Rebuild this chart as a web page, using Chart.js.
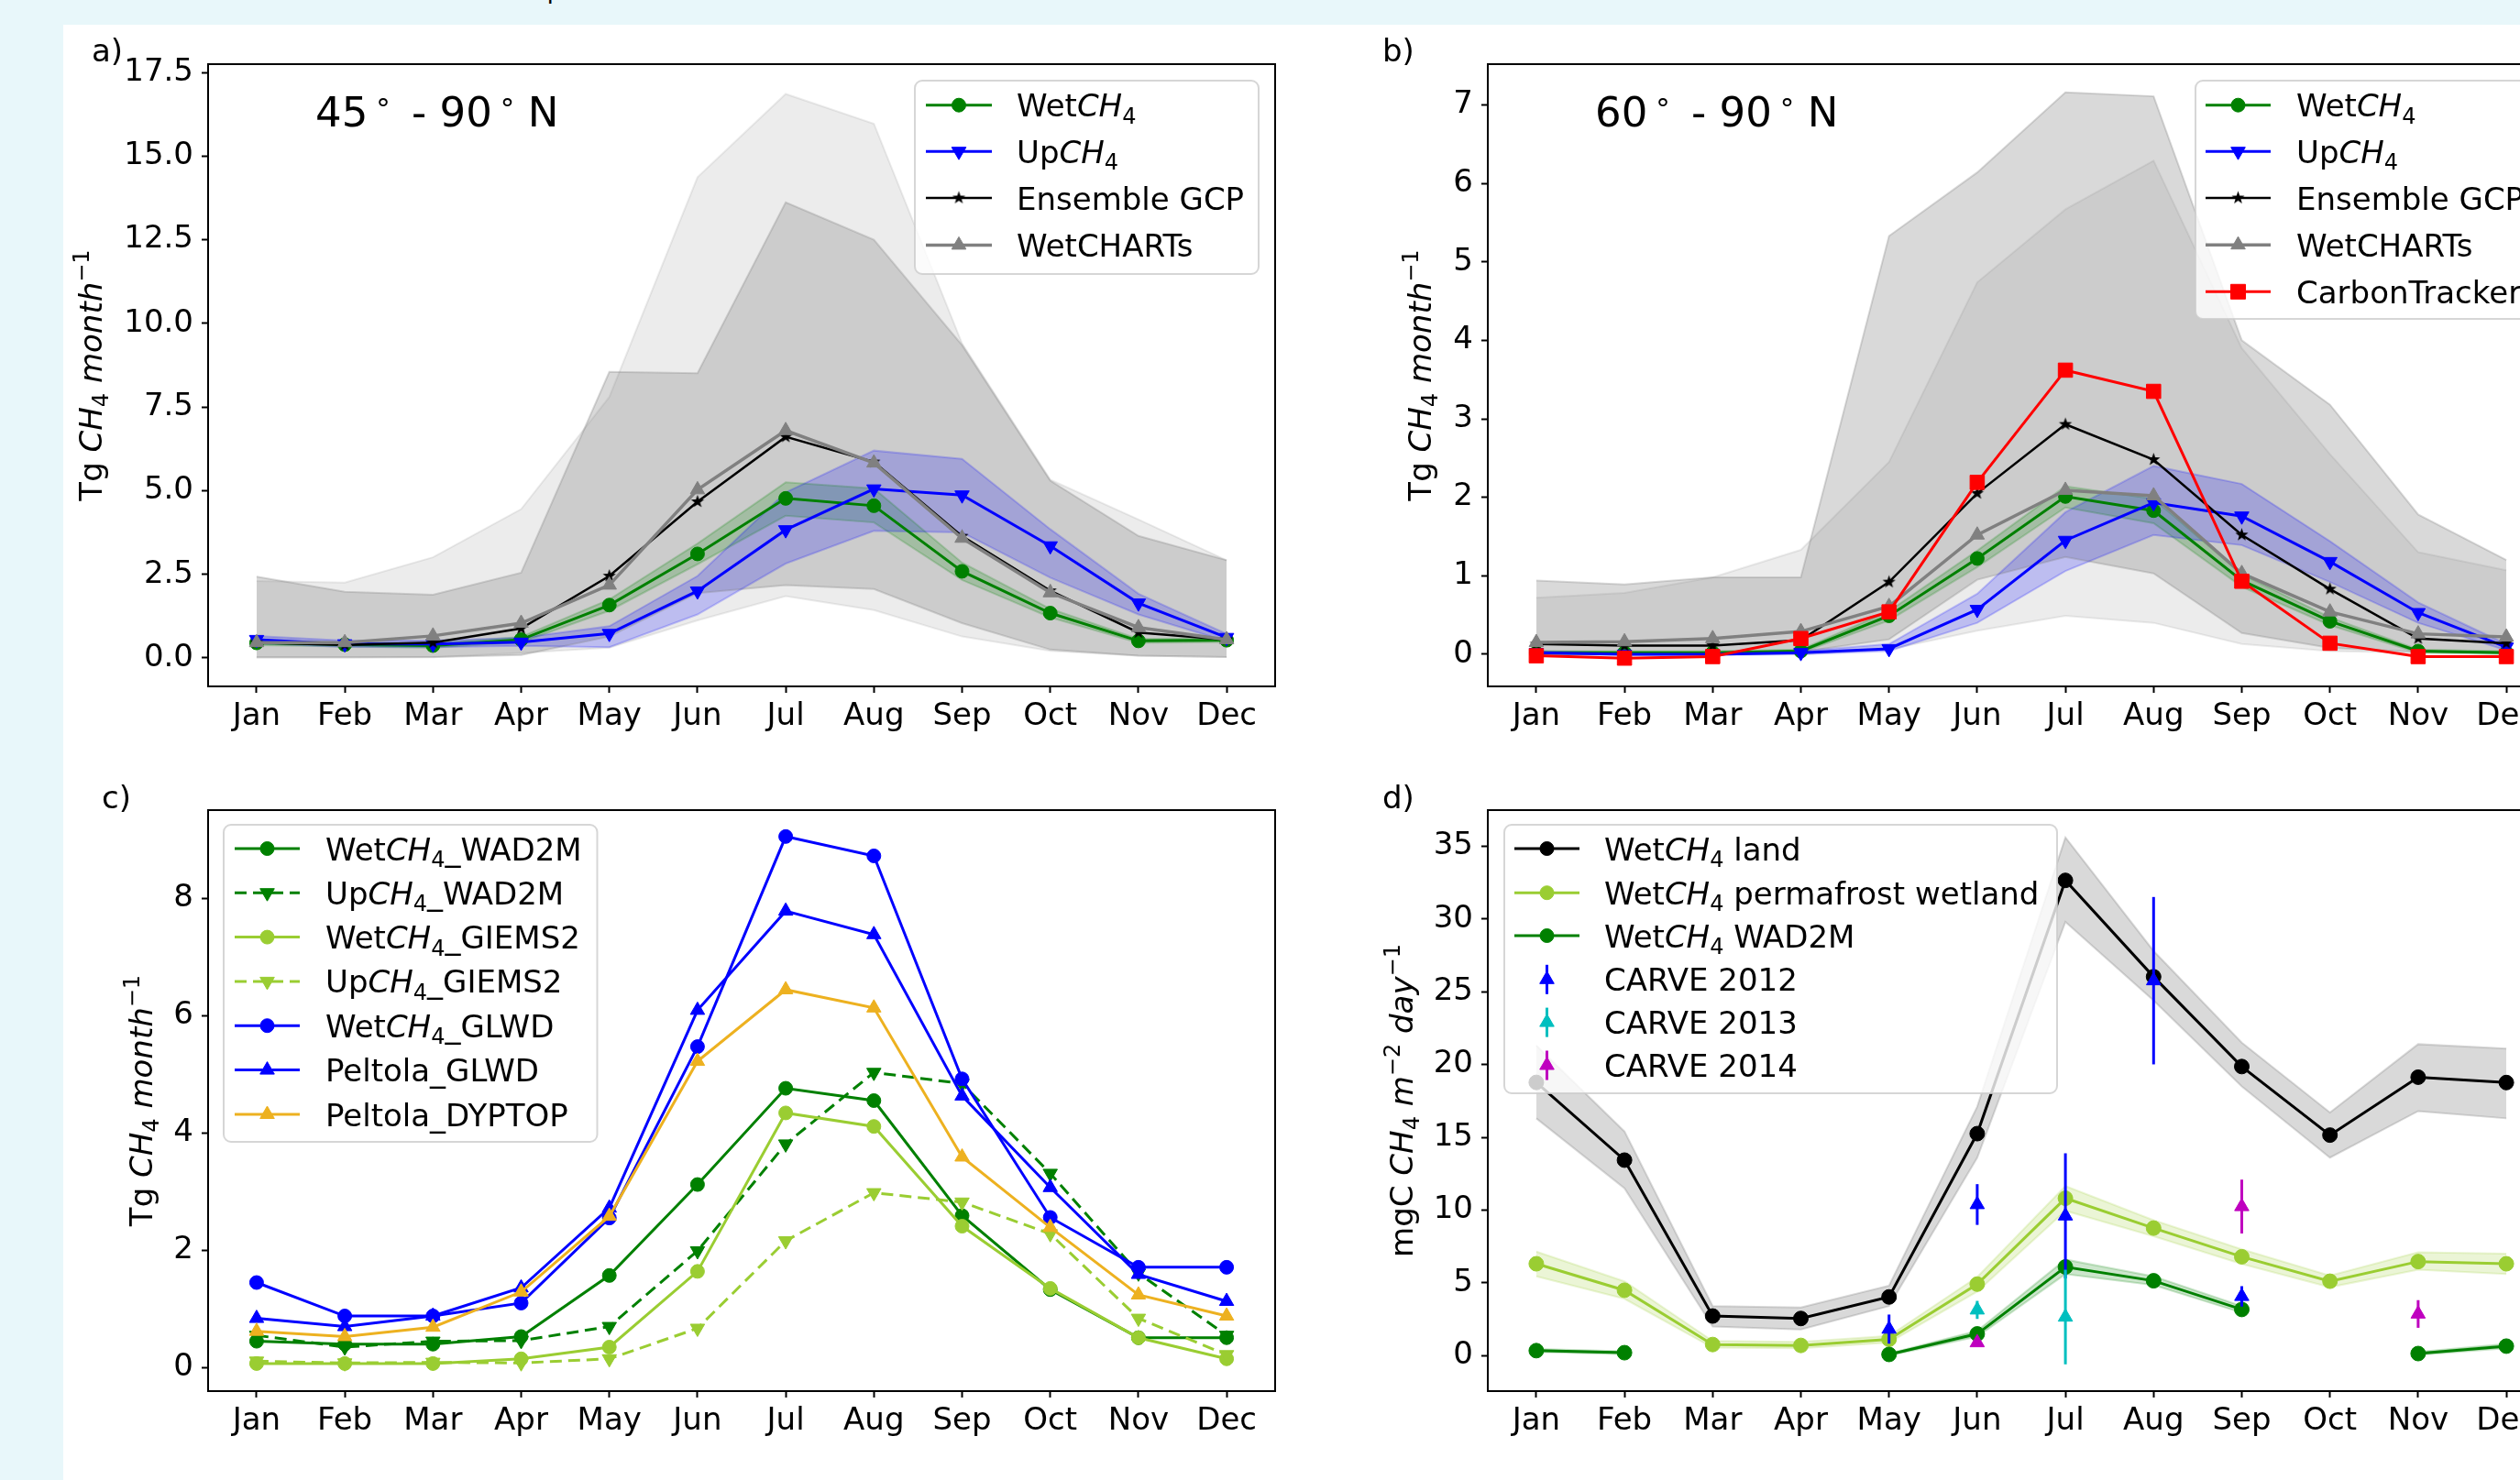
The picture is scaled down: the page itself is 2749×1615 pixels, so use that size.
<!DOCTYPE html>
<html>
<head>
<meta charset="utf-8">
<script src="https://cdn.jsdelivr.net/npm/chart.js"></script>
<style>
html,body{margin:0;padding:0;width:2749px;height:1615px;overflow:hidden;background:#e8f7fa;}
#fig{position:absolute;left:69px;top:27px;width:2680px;height:1588px;background:#fff;}
canvas{position:absolute;}
#frag{position:absolute;left:590px;top:-18px;font:24px "DejaVu Sans";color:#000;}
</style>
</head>
<body>
<div id="fig"></div>
<div id="frag">4</div>
<canvas id="ca"></canvas>
<canvas id="cb"></canvas>
<canvas id="cc"></canvas>
<canvas id="cd"></canvas>
<script>
// ---------------- DATA ----------------
const months = ['Jan','Feb','Mar','Apr','May','Jun','Jul','Aug','Sep','Oct','Nov','Dec'];

// a) 45-90 N  (Tg CH4 / month)
const a_wet    = [0.45, 0.40, 0.37, 0.55, 1.58, 3.11, 4.77, 4.55, 2.59, 1.34, 0.51, 0.53];
const a_wetHi  = [0.52, 0.46, 0.43, 0.63, 1.75, 3.42, 5.25, 5.07, 2.85, 1.47, 0.57, 0.60];
const a_wetLo  = [0.38, 0.34, 0.31, 0.47, 1.41, 2.80, 4.25, 4.05, 2.33, 1.21, 0.45, 0.47];
const a_up     = [0.55, 0.42, 0.42, 0.47, 0.73, 2.00, 3.83, 5.05, 4.87, 3.35, 1.64, 0.61];
const a_upHi   = [0.66, 0.52, 0.52, 0.60, 0.95, 2.45, 4.95, 6.20, 5.95, 3.85, 1.92, 0.72];
const a_upLo   = [0.44, 0.33, 0.32, 0.36, 0.32, 1.30, 2.82, 3.80, 3.75, 2.40, 1.30, 0.50];
const a_gcp    = [0.46, 0.39, 0.46, 0.88, 2.45, 4.67, 6.61, 5.86, 3.64, 2.01, 0.76, 0.55];
const a_gcpHi  = [2.43, 1.98, 1.89, 2.55, 8.55, 8.51, 13.62, 12.50, 9.35, 5.30, 3.65, 2.92];
const a_gcpLo  = [0.03, 0.03, 0.03, 0.09, 0.64, 1.94, 2.18, 2.06, 1.04, 0.25, 0.07, 0.03];
const a_wch    = [0.46, 0.46, 0.66, 1.04, 2.18, 5.03, 6.80, 5.83, 3.58, 1.95, 0.91, 0.55];
const a_wchHi  = [2.30, 2.25, 3.01, 4.45, 7.80, 14.37, 16.86, 15.97, 9.40, 5.33, 4.14, 2.92];
const a_wchLo  = [0.00, 0.00, 0.02, 0.15, 0.31, 1.12, 1.85, 1.43, 0.64, 0.21, 0.07, 0.03];
const yTicksA  = [0, 2.5, 5, 7.5, 10, 12.5, 15, 17.5];

// b) 60-90 N
const b_wet    = [0.02, 0.02, 0.02, 0.04, 0.49, 1.22, 2.01, 1.83, 0.94, 0.42, 0.04, 0.02];
const b_wetHi  = [0.04, 0.04, 0.04, 0.06, 0.55, 1.32, 2.14, 1.98, 1.02, 0.47, 0.06, 0.04];
const b_wetLo  = [0.00, 0.00, 0.00, 0.02, 0.43, 1.11, 1.87, 1.67, 0.86, 0.37, 0.02, 0.00];
const b_up     = [0.02, 0.00, 0.00, 0.02, 0.07, 0.57, 1.45, 1.93, 1.76, 1.18, 0.53, 0.09];
const b_upHi   = [0.04, 0.02, 0.02, 0.04, 0.13, 0.77, 1.81, 2.40, 2.17, 1.44, 0.66, 0.13];
const b_upLo   = [0.00, -0.01, -0.01, 0.00, 0.04, 0.40, 1.06, 1.52, 1.39, 0.92, 0.40, 0.05];
const b_gcp    = [0.13, 0.11, 0.11, 0.18, 0.92, 2.05, 2.93, 2.48, 1.52, 0.83, 0.20, 0.14];
const b_gcpHi  = [0.94, 0.89, 0.98, 0.98, 5.33, 6.14, 7.16, 7.11, 4.00, 3.18, 1.78, 1.20];
const b_gcpLo  = [0.00, 0.00, 0.00, 0.03, 0.19, 0.95, 1.24, 1.03, 0.27, 0.08, 0.03, 0.03];
const b_wch    = [0.15, 0.16, 0.20, 0.29, 0.61, 1.52, 2.09, 2.02, 1.03, 0.54, 0.26, 0.22];
const b_wchHi  = [0.72, 0.78, 0.98, 1.33, 2.45, 4.74, 5.67, 6.29, 3.90, 2.55, 1.30, 1.07];
const b_wchLo  = [0.00, 0.00, 0.00, 0.00, 0.06, 0.30, 0.49, 0.40, 0.13, 0.04, 0.02, 0.02];
const b_ct     = [-0.02, -0.05, -0.03, 0.20, 0.54, 2.19, 3.62, 3.35, 0.93, 0.14, -0.03, -0.03];
const yTicksB  = [0, 1, 2, 3, 4, 5, 6, 7];

// c) wetland maps comparison
const c_wetWad2m  = [0.45, 0.40, 0.40, 0.53, 1.57, 3.12, 4.76, 4.55, 2.59, 1.33, 0.51, 0.51];
const c_upWad2m   = [0.55, 0.35, 0.45, 0.46, 0.70, 1.99, 3.81, 5.03, 4.84, 3.31, 1.61, 0.55];
const c_wetGiems  = [0.07, 0.07, 0.07, 0.15, 0.35, 1.64, 4.34, 4.11, 2.41, 1.35, 0.51, 0.15];
const c_upGiems   = [0.11, 0.08, 0.09, 0.08, 0.15, 0.67, 2.16, 2.98, 2.82, 2.28, 0.84, 0.22];
const c_wetGlwd   = [1.45, 0.88, 0.88, 1.10, 2.55, 5.47, 9.05, 8.72, 4.92, 2.56, 1.71, 1.71];
const c_peltGlwd  = [0.84, 0.70, 0.88, 1.36, 2.72, 6.09, 7.78, 7.38, 4.63, 3.07, 1.59, 1.13];
const c_peltDypt  = [0.62, 0.53, 0.69, 1.29, 2.58, 5.22, 6.44, 6.13, 3.59, 2.39, 1.24, 0.88];
const yTicksC     = [0, 2, 4, 6, 8];

// d) mgC CH4 m-2 day-1
const d_land    = [18.77, 13.43, 2.72, 2.55, 4.03, 15.25, 32.65, 26.03, 19.86, 15.15, 19.13, 18.76];
const d_landHi  = [21.3, 15.4, 3.4, 3.3, 4.8, 17.1, 35.6, 27.8, 21.5, 16.7, 21.4, 21.1];
const d_landLo  = [16.3, 11.5, 2.0, 1.8, 3.4, 13.6, 29.8, 24.4, 18.5, 13.6, 16.8, 16.3];
const d_perma   = [6.31, 4.49, 0.76, 0.70, 1.12, 4.91, 10.81, 8.76, 6.79, 5.11, 6.46, 6.31];
const d_permaHi = [7.15, 5.10, 1.00, 0.95, 1.35, 5.40, 11.65, 9.30, 7.30, 5.50, 7.10, 7.00];
const d_permaLo = [5.45, 3.90, 0.55, 0.50, 0.90, 4.40, 9.95, 8.20, 6.30, 4.70, 5.90, 5.60];
const d_wad     = [0.34, 0.20, null, null, 0.08, 1.49, 6.09, 5.14, 3.17, null, 0.14, 0.65];
const d_wadHi   = [0.45, 0.30, null, null, 0.15, 1.70, 6.60, 5.45, 3.40, null, 0.25, 0.80];
const d_wadLo   = [0.25, 0.10, null, null, 0.00, 1.30, 5.60, 4.85, 2.95, null, 0.05, 0.50];
const d_c12     = [null, null, null, null, 1.82, 10.38, 9.60, 25.76, 4.07, null, null, null];
const d_c12err  = [null, null, null, null, 1.00, 1.40, 4.30, 5.75, 0.70, null, null, null];
const d_c13     = [null, null, null, null, null, 3.14, 2.65, null, null, null, null, null];
const d_c13err  = [null, null, null, null, null, 0.62, 3.25, null, null, null, null, null];
const d_c14     = [null, null, null, null, null, 0.89, null, null, 10.24, null, 2.86, null];
const d_c14err  = [null, null, null, null, null, 0.20, null, null, 1.85, null, 0.95, null];
const yTicksD   = [0, 5, 10, 15, 20, 25, 30, 35];

// ---------------- STYLE ----------------
const FS = 34;
const C = { green:'#008000', blue:'#0000ff', black:'#000000', gray:'#808080', red:'#ff0000',
            yg:'#9acd32', orange:'#edb120', cyan:'#00bfbf', magenta:'#bf00bf' };
const BAND_DARK = 'rgba(128,128,128,0.30)';
const BAND_LIGHT = 'rgba(128,128,128,0.15)';
const BAND_GREEN = 'rgba(0,128,0,0.20)';
const BAND_BLUE = 'rgba(0,0,255,0.20)';
const BAND_YG = 'rgba(154,205,50,0.20)';

Chart.defaults.font.family = '"DejaVu Sans", sans-serif';
Chart.defaults.font.size = FS;
Chart.defaults.color = '#000';
Chart.defaults.animation = false;
Chart.defaults.plugins.legend.display = false;
Chart.defaults.plugins.tooltip.enabled = false;

function starPath(g, cx, cy, R, ri) {
  g.beginPath();
  for (let i = 0; i < 10; i++) {
    const a = -Math.PI / 2 + i * Math.PI / 5;
    const rr = (i % 2) ? ri : R;
    g.lineTo(cx + rr * Math.cos(a), cy + rr * Math.sin(a));
  }
  g.closePath();
}
function makeStar(R, color) {
  const c = document.createElement('canvas');
  const s = Math.ceil(2 * R + 4);
  c.width = s; c.height = s;
  const g = c.getContext('2d');
  starPath(g, s / 2, s / 2, R, R * 0.4);
  g.fillStyle = color; g.fill();
  return c;
}
const STAR = makeStar(7.5, '#000');

const XY = arr => arr.map((v, i) => ({ x: i, y: v }));

function mkLine(arr, color, k, o) {
  return Object.assign({
    data: XY(arr), borderColor: color, backgroundColor: color,
    pointBackgroundColor: color, pointBorderColor: color,
    borderWidth: 3, pointRadius: 7.5, pointBorderWidth: 1, pointStyle: 'circle',
    fill: false, tension: 0, spanGaps: false, order: 50 - k
  }, o || {});
}
function mkBand(hi, lo, rgba, k) {
  return [
    { data: XY(hi), borderColor: rgba, borderWidth: 2, backgroundColor: rgba, pointRadius: 0,
      fill: '+1', tension: 0, spanGaps: false, order: 100 - k },
    { data: XY(lo), borderColor: rgba, borderWidth: 2, backgroundColor: rgba, pointRadius: 0,
      fill: false, tension: 0, spanGaps: false, order: 100 - k }
  ];
}
const TRI_DOWN = { pointStyle: 'triangle', pointRotation: 180, pointRadius: 9 };
const TRI_UP = { pointStyle: 'triangle', pointRadius: 9 };

// ---------------- RICH TEXT ----------------
function fontFor(f, fs) {
  if (f === 'i') return 'italic ' + fs + 'px "DejaVu Sans"';
  if (f === 'sub' || f === 'sup' || f === 'deg') return Math.round(fs * 0.7) + 'px "DejaVu Sans"';
  return fs + 'px "DejaVu Sans"';
}
function richWidth(ctx, segs, fs) {
  let w = 0;
  for (const [t, f] of segs) { ctx.font = fontFor(f, fs); w += ctx.measureText(t).width; }
  return w;
}
function drawRich(ctx, segs, x, y, fs, align) {
  ctx.save();
  ctx.textBaseline = 'alphabetic'; ctx.textAlign = 'left'; ctx.fillStyle = '#000';
  let cx = x;
  if (align === 'center') cx = x - richWidth(ctx, segs, fs) / 2;
  for (const [t, f] of segs) {
    ctx.font = fontFor(f, fs);
    const dy = f === 'sub' ? fs * 0.22 : f === 'sup' ? -fs * 0.42 : f === 'deg' ? -fs * 0.2 : 0;
    ctx.fillText(t, cx, y + dy);
    cx += ctx.measureText(t).width;
  }
  ctx.restore();
}
const CH4 = [['CH', 'i'], ['4', 'sub']];
const wet = extra => [['Wet', 'n'], ...CH4].concat(extra ? [[extra, 'n']] : []);
const up = extra => [['Up', 'n'], ...CH4].concat(extra ? [[extra, 'n']] : []);
const plain = t => [[t, 'n']];
const YT_TG = [['Tg ', 'n'], ...CH4, [' ', 'n'], ['month', 'i'], ['\u22121', 'sup']];
const YT_MG = [['mgC ', 'n'], ...CH4, [' ', 'n'], ['m', 'i'], ['\u22122', 'sup'], [' ', 'n'], ['day', 'i'], ['\u22121', 'sup']];
const ann = (a, b) => [[a, 'n'], ['\u2009', 'n'], ['\u00b0', 'deg'], [' \u2009-', 'n'], [' ' + b, 'n'], ['\u2009', 'n'], ['\u00b0', 'deg'], [' N', 'n']];

// ---------------- DECOR PLUGIN ----------------
function marker(ctx, type, x, y, color) {
  ctx.save();
  ctx.fillStyle = color; ctx.strokeStyle = color; ctx.lineWidth = 1;
  if (type === 'star') { ctx.drawImage(STAR, x - STAR.width / 2, y - STAR.height / 2); ctx.restore(); return; }
  ctx.beginPath();
  if (type === 'circle') ctx.arc(x, y, 7.5, 0, Math.PI * 2);
  else if (type === 'triup' || type === 'err') {
    ctx.moveTo(x, y - 9); ctx.lineTo(x + 7.8, y + 4.5); ctx.lineTo(x - 7.8, y + 4.5); ctx.closePath();
  } else if (type === 'tridown') {
    ctx.moveTo(x, y + 9); ctx.lineTo(x + 7.8, y - 4.5); ctx.lineTo(x - 7.8, y - 4.5); ctx.closePath();
  } else if (type === 'square') ctx.rect(x - 8, y - 8, 16, 16);
  ctx.fill(); ctx.stroke();
  ctx.restore();
}
function roundRect(ctx, x, y, w, h, r) {
  ctx.beginPath();
  ctx.moveTo(x + r, y); ctx.lineTo(x + w - r, y); ctx.arcTo(x + w, y, x + w, y + r, r);
  ctx.lineTo(x + w, y + h - r); ctx.arcTo(x + w, y + h, x + w - r, y + h, r);
  ctx.lineTo(x + r, y + h); ctx.arcTo(x, y + h, x, y + h - r, r);
  ctx.lineTo(x, y + r); ctx.arcTo(x, y, x + r, y, r); ctx.closePath();
}

const CFG = {};
const decor = {
  id: 'decor',
  afterDatasetsDraw(chart) {
    const cfg = CFG[chart.canvas.id];
    if (!cfg) return;
    const ctx = chart.ctx, ca = chart.chartArea;
    const ox = cfg.ox, oy = cfg.oy;
    const xs = chart.scales.x, ys = chart.scales.y;
    // error bars
    if (cfg.err) {
      ctx.save();
      ctx.beginPath(); ctx.rect(ca.left, ca.top, ca.right - ca.left, ca.bottom - ca.top); ctx.clip();
      for (const e of cfg.err) {
        ctx.strokeStyle = e.color; ctx.lineWidth = 3;
        e.vals.forEach((v, i) => {
          if (v === null || e.errs[i] === null) return;
          const px = xs.getPixelForValue(i);
          ctx.beginPath();
          ctx.moveTo(px, ys.getPixelForValue(v - e.errs[i]));
          ctx.lineTo(px, ys.getPixelForValue(v + e.errs[i]));
          ctx.stroke();
        });
      }
      ctx.restore();
    }
    // frame
    ctx.save();
    ctx.strokeStyle = '#000'; ctx.lineWidth = 2;
    ctx.strokeRect(ca.left, ca.top, ca.right - ca.left, ca.bottom - ca.top);
    ctx.restore();
    // panel letter
    drawRich(ctx, plain(cfg.letter.t), cfg.letter.x - ox, cfg.letter.y - oy, FS, 'left');
    // annotation
    if (cfg.ann) drawRich(ctx, cfg.ann.segs, cfg.ann.x - ox, cfg.ann.y - oy, 45, 'left');
    // y title
    ctx.save();
    ctx.translate(ca.left - cfg.ytitle.dx, (ca.top + ca.bottom) / 2);
    ctx.rotate(-Math.PI / 2);
    drawRich(ctx, cfg.ytitle.segs, 0, 0, FS, 'center');
    ctx.restore();
    // legend
    const L = cfg.legend;
    ctx.save();
    roundRect(ctx, L.box[0] - ox, L.box[1] - oy, L.box[2], L.box[3], 8);
    ctx.fillStyle = 'rgba(255,255,255,0.8)'; ctx.fill();
    ctx.strokeStyle = 'rgba(204,204,204,0.8)'; ctx.lineWidth = 2; ctx.stroke();
    ctx.restore();
    L.items.forEach((it, k) => {
      const y = L.rows[k] - oy, x1 = L.hx[0] - ox, x2 = L.hx[1] - ox, xm = (x1 + x2) / 2;
      ctx.save();
      if (it.mk === 'err') {
        ctx.strokeStyle = it.color; ctx.lineWidth = 3;
        ctx.beginPath(); ctx.moveTo(xm, y - 16); ctx.lineTo(xm, y + 16); ctx.stroke();
      } else {
        ctx.strokeStyle = it.color; ctx.lineWidth = it.lw || 3;
        if (it.dash) ctx.setLineDash([13, 7]);
        ctx.beginPath(); ctx.moveTo(x1, y); ctx.lineTo(x2, y); ctx.stroke();
      }
      ctx.restore();
      marker(ctx, it.mk, xm, y, it.color);
      drawRich(ctx, it.label, L.tx - ox, y + 12.5, FS, 'left');
    });
  }
};

// ---------------- BUILD ----------------
function axes(P, yTicks, fmt) {
  const grid = { drawOnChartArea: false, drawTicks: true, tickLength: 7, tickWidth: 2, tickColor: '#000' };
  const border = { display: true, color: '#000', width: 2 };
  return {
    x: {
      type: 'linear', min: -0.55, max: 11.55,
      afterBuildTicks: s => { s.ticks = months.map((m, i) => ({ value: i })); },
      afterFit: s => { s.height = 100; },
      ticks: { callback: v => months[v], padding: 6, maxRotation: 0, autoSkip: false, color: '#000', font: { size: FS } },
      grid, border
    },
    y: {
      type: 'linear', min: P.ymin, max: P.ymax,
      afterBuildTicks: s => { s.ticks = yTicks.map(v => ({ value: v })); },
      afterFit: s => { s.width = 200; },
      ticks: { callback: fmt, padding: 9, color: '#000', font: { size: FS } },
      grid, border
    }
  };
}
function build(id, P, datasets, yTicks, fmt, cfg) {
  const cv = document.getElementById(id);
  const ox = P.L - 200, oy = P.T - 60;
  const w = (P.R - P.L) + 260, h = (P.B - P.T) + 160;
  cv.width = w; cv.height = h;
  cv.style.left = ox + 'px'; cv.style.top = oy + 'px';
  cv.style.width = w + 'px'; cv.style.height = h + 'px';
  cfg.ox = ox; cfg.oy = oy;
  CFG[id] = cfg;
  new Chart(cv, {
    type: 'line',
    data: { datasets },
    options: {
      responsive: false, devicePixelRatio: 1,
      layout: { padding: { left: 0, top: 60, right: 60, bottom: 0 } },
      scales: axes(P, yTicks, fmt),
      plugins: { filler: { propagate: false, drawTime: 'beforeDatasetsDraw' } }
    },
    plugins: [decor]
  });
}

const LEG4 = [
  { label: wet(), color: C.green, mk: 'circle' },
  { label: up(), color: C.blue, mk: 'tridown' },
  { label: plain('Ensemble GCP'), color: C.black, mk: 'star', lw: 2.5 },
  { label: plain('WetCHARTs'), color: C.gray, mk: 'triup', lw: 3.5 }
];

// Panel a
build('ca', { L: 227, T: 70, R: 1391, B: 749, ymin: -0.85, ymax: 17.75 }, [
  ...mkBand(a_wchHi, a_wchLo, BAND_LIGHT, 0),
  ...mkBand(a_gcpHi, a_gcpLo, BAND_DARK, 1),
  ...mkBand(a_wetHi, a_wetLo, BAND_GREEN, 2),
  ...mkBand(a_upHi, a_upLo, BAND_BLUE, 3),
  mkLine(a_wet, C.green, 0),
  mkLine(a_up, C.blue, 1, TRI_DOWN),
  mkLine(a_gcp, C.black, 2, { borderWidth: 2.5, pointStyle: STAR }),
  mkLine(a_wch, C.gray, 3, Object.assign({ borderWidth: 3.5 }, TRI_UP))
], yTicksA, v => v.toFixed(1), {
  letter: { t: 'a)', x: 100, y: 67 },
  ann: { segs: ann('45', '90'), x: 344, y: 138 },
  ytitle: { segs: YT_TG, dx: 116 },
  legend: { box: [998, 88, 375, 211], rows: [114.7, 165.2, 216, 267.4], hx: [1010, 1082], tx: 1109, items: LEG4 }
});

// Panel b
build('cb', { L: 1623, T: 70, R: 2787, B: 749, ymin: -0.41, ymax: 7.52 }, [
  ...mkBand(b_gcpHi, b_gcpLo, BAND_DARK, 0),
  ...mkBand(b_wchHi, b_wchLo, BAND_LIGHT, 1),
  ...mkBand(b_wetHi, b_wetLo, BAND_GREEN, 2),
  ...mkBand(b_upHi, b_upLo, BAND_BLUE, 3),
  mkLine(b_wet, C.green, 0),
  mkLine(b_up, C.blue, 1, TRI_DOWN),
  mkLine(b_gcp, C.black, 2, { borderWidth: 2.5, pointStyle: STAR }),
  mkLine(b_wch, C.gray, 3, Object.assign({ borderWidth: 3.5 }, TRI_UP)),
  mkLine(b_ct, C.red, 4, { pointStyle: 'rect', pointRadius: 11 })
], yTicksB, v => String(v), {
  letter: { t: 'b)', x: 1508, y: 67 },
  ann: { segs: ann('60', '90'), x: 1740, y: 138 },
  ytitle: { segs: YT_TG, dx: 62 },
  legend: { box: [2395, 88, 400, 260], rows: [114.7, 165.2, 216, 267.2, 318.3], hx: [2406, 2477], tx: 2505,
    items: LEG4.concat([{ label: plain('CarbonTracker'), color: C.red, mk: 'square' }]) }
});

// Panel c
build('cc', { L: 227, T: 884, R: 1391, B: 1518, ymin: -0.40, ymax: 9.50 }, [
  mkLine(c_wetWad2m, C.green, 0),
  mkLine(c_upWad2m, C.green, 1, Object.assign({ borderDash: [13, 7] }, TRI_DOWN)),
  mkLine(c_wetGiems, C.yg, 2),
  mkLine(c_upGiems, C.yg, 3, Object.assign({ borderDash: [13, 7] }, TRI_DOWN)),
  mkLine(c_wetGlwd, C.blue, 4),
  mkLine(c_peltGlwd, C.blue, 5, TRI_UP),
  mkLine(c_peltDypt, C.orange, 6, TRI_UP)
], yTicksC, v => String(v), {
  letter: { t: 'c)', x: 111, y: 882 },
  ytitle: { segs: YT_TG, dx: 61 },
  legend: { box: [244, 900, 407.5, 346], rows: [926, 974.2, 1022.6, 1070.9, 1119.2, 1167.6, 1216], hx: [256, 327], tx: 355,
    items: [
      { label: wet('_WAD2M'), color: C.green, mk: 'circle' },
      { label: up('_WAD2M'), color: C.green, mk: 'tridown', dash: true },
      { label: wet('_GIEMS2'), color: C.yg, mk: 'circle' },
      { label: up('_GIEMS2'), color: C.yg, mk: 'tridown', dash: true },
      { label: wet('_GLWD'), color: C.blue, mk: 'circle' },
      { label: plain('Peltola_GLWD'), color: C.blue, mk: 'triup' },
      { label: plain('Peltola_DYPTOP'), color: C.orange, mk: 'triup' }
    ] }
});

// Panel d
build('cd', { L: 1623, T: 884, R: 2787, B: 1518, ymin: -2.44, ymax: 37.48 }, [
  ...mkBand(d_landHi, d_landLo, BAND_DARK, 0),
  ...mkBand(d_permaHi, d_permaLo, BAND_YG, 1),
  ...mkBand(d_wadHi, d_wadLo, BAND_GREEN, 2),
  mkLine(d_land, C.black, 0, { pointRadius: 8 }),
  mkLine(d_perma, C.yg, 1, { pointRadius: 8 }),
  mkLine(d_wad, C.green, 2, { pointRadius: 8 }),
  mkLine(d_c12, C.blue, 3, Object.assign({ showLine: false }, TRI_UP)),
  mkLine(d_c13, C.cyan, 4, Object.assign({ showLine: false }, TRI_UP)),
  mkLine(d_c14, C.magenta, 5, Object.assign({ showLine: false }, TRI_UP))
], yTicksD, v => String(v), {
  letter: { t: 'd)', x: 1508, y: 882 },
  ytitle: { segs: YT_MG, dx: 82 },
  err: [
    { vals: d_c12, errs: d_c12err, color: C.blue },
    { vals: d_c13, errs: d_c13err, color: C.cyan },
    { vals: d_c14, errs: d_c14err, color: C.magenta }
  ],
  legend: { box: [1641, 900, 603, 293], rows: [926, 974.2, 1021, 1068.8, 1115.6, 1162.5], hx: [1652, 1723], tx: 1750,
    items: [
      { label: wet(' land'), color: C.black, mk: 'circle' },
      { label: wet(' permafrost wetland'), color: C.yg, mk: 'circle' },
      { label: wet(' WAD2M'), color: C.green, mk: 'circle' },
      { label: plain('CARVE 2012'), color: C.blue, mk: 'err' },
      { label: plain('CARVE 2013'), color: C.cyan, mk: 'err' },
      { label: plain('CARVE 2014'), color: C.magenta, mk: 'err' }
    ] }
});
</script>
</body>
</html>
